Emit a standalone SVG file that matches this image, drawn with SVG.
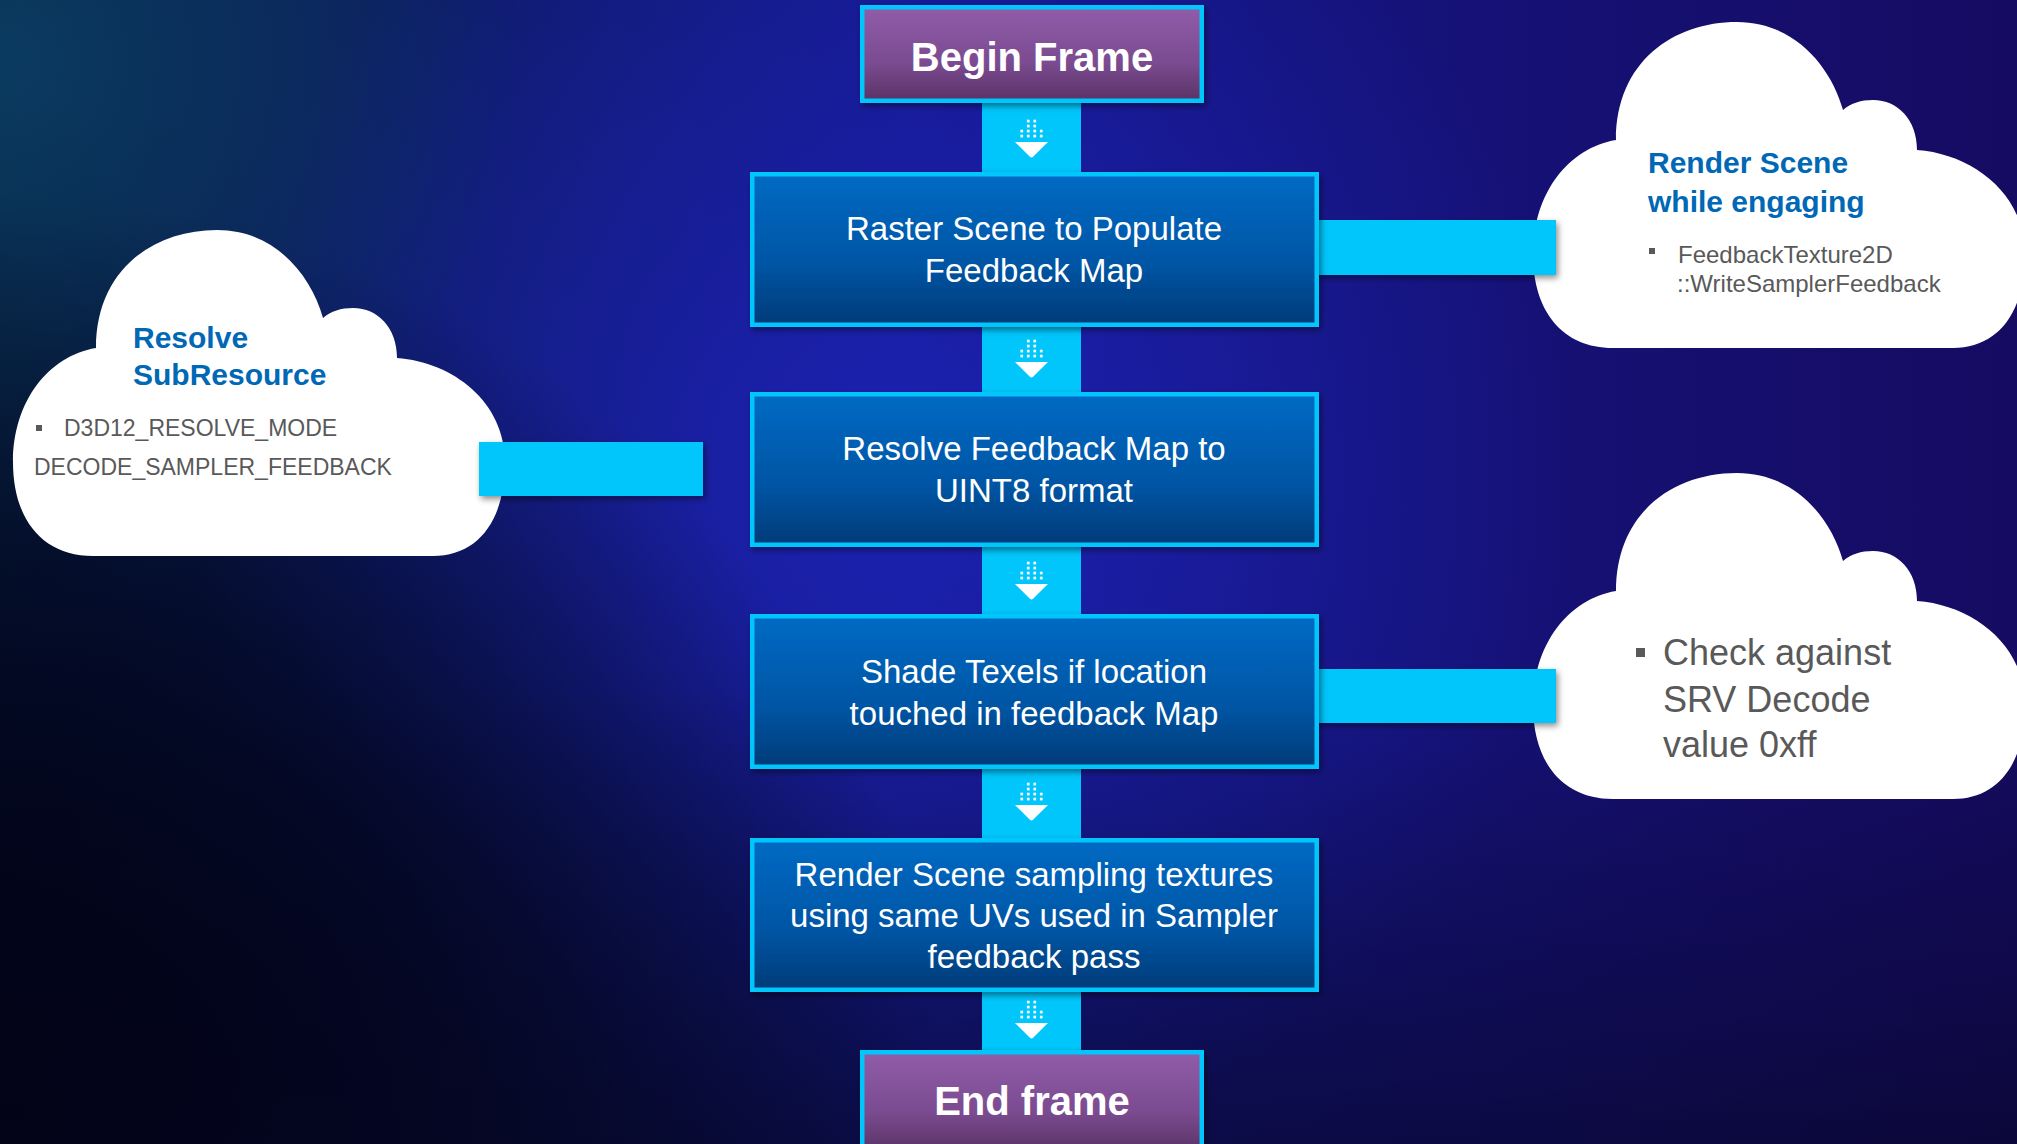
<svg xmlns="http://www.w3.org/2000/svg" xmlns:xlink="http://www.w3.org/1999/xlink" width="2017" height="1144" viewBox="0 0 2017 1144">
<style>
.bar{fill:#00c6fb}
.boxB{fill:url(#gBlue);stroke:#00c6fb;stroke-width:4.5}
.boxP{fill:url(#gPurple);stroke:#00c6fb;stroke-width:4.5}
.t{font-family:"Liberation Sans",Arial,sans-serif;fill:#ffffff;text-anchor:middle}
.tb{font-family:"Liberation Sans",Arial,sans-serif;fill:#ffffff;text-anchor:middle;font-weight:bold;font-size:40px}
.tm{font-size:33px}
.ct{font-family:"Liberation Sans",Arial,sans-serif;fill:#0068b5;font-weight:bold;font-size:30px}
.cg{font-family:"Liberation Sans",Arial,sans-serif;fill:#595959}
.bul{fill:#595959}
.cloud{fill:#ffffff}
</style>
<defs>
<linearGradient id="bg0" x1="0" y1="0" x2="1" y2="0">
<stop offset="0" stop-color="#07203f"/>
<stop offset="0.45" stop-color="#14188c"/>
<stop offset="1" stop-color="#160b62"/>
</linearGradient>
<radialGradient id="bgC" cx="880" cy="470" r="700" gradientUnits="userSpaceOnUse">
<stop offset="0" stop-color="#1d22b4" stop-opacity="0.9"/>
<stop offset="1" stop-color="#1d22b4" stop-opacity="0"/>
</radialGradient>
<radialGradient id="bgTL" cx="0" cy="60" r="520" gradientUnits="userSpaceOnUse">
<stop offset="0" stop-color="#0b3f66" stop-opacity="0.85"/>
<stop offset="1" stop-color="#0b3f66" stop-opacity="0"/>
</radialGradient>
<radialGradient id="bgBL" cx="0" cy="1144" r="950" gradientUnits="userSpaceOnUse">
<stop offset="0" stop-color="#00000a" stop-opacity="1"/>
<stop offset="0.5" stop-color="#02051e" stop-opacity="0.85"/>
<stop offset="1" stop-color="#02051e" stop-opacity="0"/>
</radialGradient>
<linearGradient id="bgB" x1="0" y1="0" x2="0" y2="1">
<stop offset="0.6" stop-color="#050520" stop-opacity="0"/>
<stop offset="1" stop-color="#050520" stop-opacity="0.6"/>
</linearGradient>
<linearGradient id="gBlue" x1="0" y1="0" x2="0" y2="1">
<stop offset="0" stop-color="#006ac4"/>
<stop offset="0.6" stop-color="#0055a4"/>
<stop offset="1" stop-color="#003b78"/>
</linearGradient>
<linearGradient id="gPurple" x1="0" y1="0" x2="0" y2="1">
<stop offset="0" stop-color="#915ca9"/>
<stop offset="0.6" stop-color="#7a4b90"/>
<stop offset="1" stop-color="#5a3266"/>
</linearGradient>
<filter id="sh" x="-10%" y="-10%" width="130%" height="130%">
<feDropShadow dx="2" dy="3" stdDeviation="3" flood-color="#000010" flood-opacity="0.45"/>
</filter>
<path id="cloudShape" d="M 80,326 C 30,326 0,290 0,232 C 0,172 35,126 83,118 C 83,40 140,0 204,0 C 262,0 298,45 310,88 C 318,81 328,78 340,78 C 365,78 384,98 384,128 C 440,132 492,172 492,232 C 492,292 464,326 420,326 Z"/>
<g id="arrowIcon">
<g fill="#ffffff">
<rect x="-4.6" y="-22.3" width="2.7" height="2.7"/><rect x="1.9" y="-22.3" width="2.7" height="2.7"/>
<rect x="-4.6" y="-17.3" width="2.7" height="2.7"/><rect x="1.9" y="-17.3" width="2.7" height="2.7"/>
<rect x="-11.1" y="-12.3" width="2.7" height="2.7"/><rect x="-4.6" y="-12.3" width="2.7" height="2.7"/><rect x="1.9" y="-12.3" width="2.7" height="2.7"/><rect x="8.4" y="-12.3" width="2.7" height="2.7"/>
<rect x="-11.1" y="-7.3" width="2.7" height="2.7"/><rect x="-4.6" y="-7.3" width="2.7" height="2.7"/><rect x="1.9" y="-7.3" width="2.7" height="2.7"/><rect x="8.4" y="-7.3" width="2.7" height="2.7"/>
<path d="M -16.5,0 L 16.5,0 L 1.6,14.8 Q 0,16.4 -1.6,14.8 Z"/>
</g>
</g>
</defs>

<g id="background">
<rect x="0" y="0" width="2017" height="1144" fill="url(#bg0)"/>
<rect x="0" y="0" width="2017" height="1144" fill="url(#bgC)"/>
<rect x="0" y="0" width="2017" height="1144" fill="url(#bgTL)"/>
<rect x="0" y="0" width="2017" height="1144" fill="url(#bgBL)"/>
<rect x="0" y="0" width="2017" height="1144" fill="url(#bgB)"/>
</g>

<g id="cloud-resolve-subresource">
<use href="#cloudShape" class="cloud" transform="translate(13,230)"/>
<text class="ct" x="133" y="348">Resolve</text>
<text class="ct" x="133" y="385">SubResource</text>
<rect class="bul" x="36" y="425" width="6" height="6"/>
<text class="cg" x="64" y="436" font-size="23">D3D12_RESOLVE_MODE</text>
<text class="cg" x="34" y="475" font-size="23">DECODE_SAMPLER_FEEDBACK</text>
</g>

<g id="cloud-render-scene">
<use href="#cloudShape" class="cloud" transform="translate(1533,22)"/>
<text class="ct" x="1648" y="173">Render Scene</text>
<text class="ct" x="1648" y="212">while engaging</text>
<rect class="bul" x="1649" y="248" width="6" height="6"/>
<text class="cg" x="1678" y="263" font-size="24">FeedbackTexture2D</text>
<text class="cg" x="1677" y="292" font-size="24">::WriteSamplerFeedback</text>
</g>

<g id="cloud-check">
<use href="#cloudShape" class="cloud" transform="translate(1533,473)"/>
<rect class="bul" x="1636" y="648" width="9" height="9"/>
<text class="cg" x="1663" y="665" font-size="36">Check against</text>
<text class="cg" x="1663" y="712" font-size="36">SRV Decode</text>
<text class="cg" x="1663" y="757" font-size="36">value 0xff</text>
</g>

<g id="connectors">
<rect class="bar" x="982" y="100" width="99" height="75"/>
<rect class="bar" x="982" y="324" width="99" height="71"/>
<rect class="bar" x="982" y="544" width="99" height="73"/>
<rect class="bar" x="982" y="766" width="99" height="75"/>
<rect class="bar" x="982" y="989" width="99" height="64"/>
<rect class="bar" x="1316" y="220" width="240" height="55" filter="url(#sh)"/>
<rect class="bar" x="1316" y="669" width="240" height="54" filter="url(#sh)"/>
<rect class="bar" x="479" y="442" width="224" height="54" filter="url(#sh)"/>
<use href="#arrowIcon" x="1031.5" y="142"/>
<use href="#arrowIcon" x="1031.5" y="362"/>
<use href="#arrowIcon" x="1031.5" y="584"/>
<use href="#arrowIcon" x="1031.5" y="805"/>
<use href="#arrowIcon" x="1031.5" y="1023"/>
</g>

<g id="node-begin-frame">
<rect class="boxP" x="862.25" y="7.25" width="339.5" height="93.5" filter="url(#sh)"/>
<text class="tb" x="1032" y="71">Begin Frame</text>
</g>

<g id="node-raster">
<rect class="boxB" x="752.25" y="174.25" width="564.5" height="150.5" filter="url(#sh)"/>
<text class="t tm" x="1034" y="240">Raster Scene to Populate</text>
<text class="t tm" x="1034" y="282">Feedback Map</text>
</g>

<g id="node-resolve">
<rect class="boxB" x="752.25" y="394.25" width="564.5" height="150.5" filter="url(#sh)"/>
<text class="t tm" x="1034" y="460">Resolve Feedback Map to</text>
<text class="t tm" x="1034" y="502">UINT8 format</text>
</g>

<g id="node-shade">
<rect class="boxB" x="752.25" y="616.25" width="564.5" height="150.5" filter="url(#sh)"/>
<text class="t tm" x="1034" y="683">Shade Texels if location</text>
<text class="t tm" x="1034" y="725">touched in feedback Map</text>
</g>

<g id="node-render">
<rect class="boxB" x="752.25" y="840.25" width="564.5" height="149.5" filter="url(#sh)"/>
<text class="t tm" x="1034" y="886">Render Scene sampling textures</text>
<text class="t tm" x="1034" y="927">using same UVs used in Sampler</text>
<text class="t tm" x="1034" y="968">feedback pass</text>
</g>

<g id="node-end-frame">
<rect class="boxP" x="862.25" y="1052.25" width="339.5" height="100" filter="url(#sh)"/>
<text class="tb" x="1032" y="1115">End frame</text>
</g>
</svg>
